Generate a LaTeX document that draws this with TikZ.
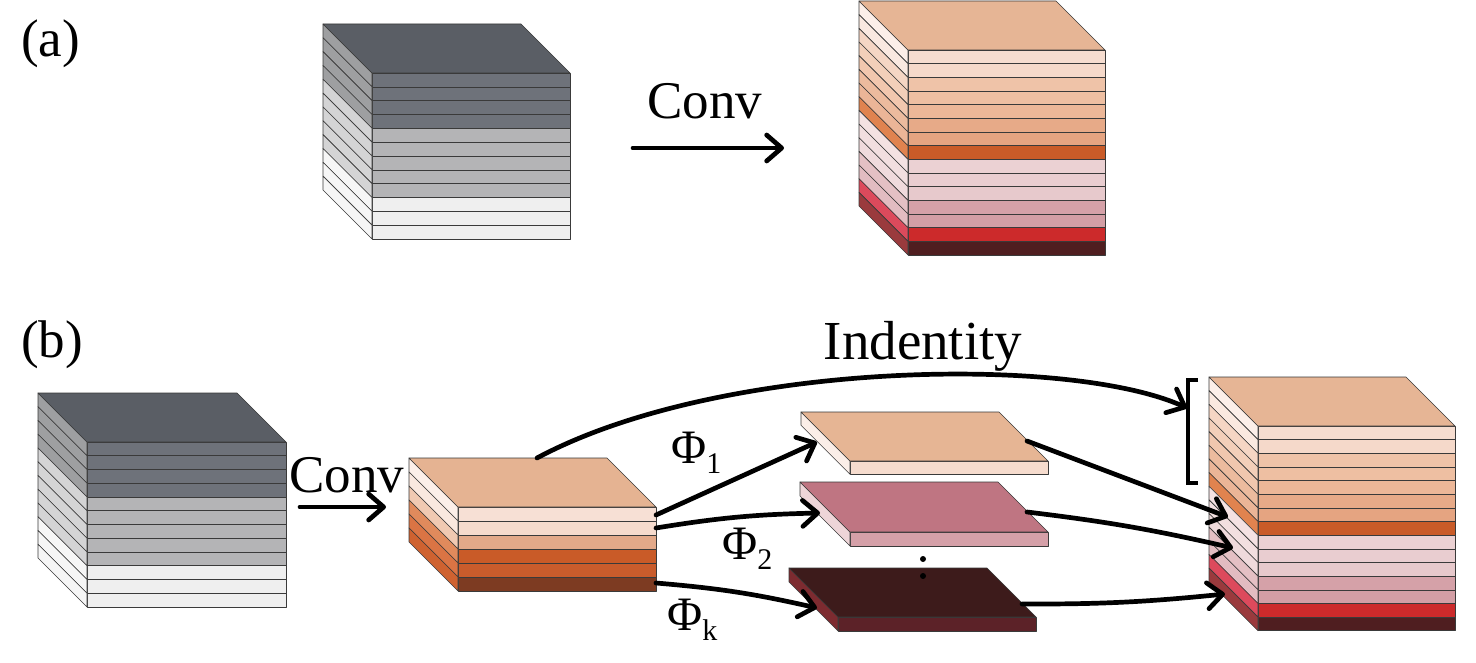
\documentclass[tikz,border=0pt]{standalone}
\usepackage{fontspec}
\setmainfont{Liberation Serif}
\usetikzlibrary{arrows.meta}
% gray cube
\definecolor{gtop}{HTML}{5A5E65}
\definecolor{gf1}{HTML}{6E727A}\definecolor{gs1}{HTML}{9E9FA1}
\definecolor{gf2}{HTML}{B4B4B6}\definecolor{gs2}{HTML}{D4D4D5}
\definecolor{gf3}{HTML}{EFEFEF}\definecolor{gs3}{HTML}{F6F6F6}
% orange/pink cube
\definecolor{otop}{HTML}{E6B595}
\definecolor{o1}{HTML}{F6DDD0}\definecolor{s1}{HTML}{FCEFE9}
\definecolor{o2}{HTML}{F5D9CA}\definecolor{s2}{HTML}{FAE9E0}
\definecolor{o3}{HTML}{EFC3A8}\definecolor{s3}{HTML}{F5D6C4}
\definecolor{o4}{HTML}{EEBFA2}\definecolor{s4}{HTML}{F3CFB9}
\definecolor{o5}{HTML}{ECB798}\definecolor{s5}{HTML}{F1C7AE}
\definecolor{o6}{HTML}{E7AA88}\definecolor{s6}{HTML}{ECBB9E}
\definecolor{o7}{HTML}{E5A481}\definecolor{s7}{HTML}{EBB597}
\definecolor{o8}{HTML}{C95B28}\definecolor{s8}{HTML}{E0834F}
\definecolor{o9}{HTML}{EBD1D3}\definecolor{s9}{HTML}{F4E2E3}
\definecolor{o10}{HTML}{E9CDD0}\definecolor{s10}{HTML}{F2DFE0}
\definecolor{o11}{HTML}{E7C9CC}\definecolor{s11}{HTML}{EFDADC}
\definecolor{o12}{HTML}{D5A1A8}\definecolor{s12}{HTML}{E4C0C4}
\definecolor{o13}{HTML}{D39EA5}\definecolor{s13}{HTML}{E2BCC1}
\definecolor{o14}{HTML}{CC2A2B}\definecolor{s14}{HTML}{DC4A5C}
\definecolor{o15}{HTML}{4F1E20}\definecolor{s15}{HTML}{9A3A3D}
% middle cube
\definecolor{mtop}{HTML}{E5B392}
\definecolor{m1}{HTML}{F7E0D5}\definecolor{n1}{HTML}{FCEFE9}
\definecolor{m2}{HTML}{F6DBCD}\definecolor{n2}{HTML}{FAE8DF}
\definecolor{m3}{HTML}{E3A989}\definecolor{n3}{HTML}{F0C9B2}
\definecolor{m4}{HTML}{C95B28}\definecolor{n4}{HTML}{E08A5C}
\definecolor{m5}{HTML}{C95C2C}\definecolor{n5}{HTML}{DB7444}
\definecolor{m6}{HTML}{7D3B22}\definecolor{n6}{HTML}{CF6230}
% slabs
\definecolor{p1t}{HTML}{E6B594}\definecolor{p1f}{HTML}{F6DCCE}\definecolor{p1s}{HTML}{FBEEE8}
\definecolor{p2t}{HTML}{BF7582}\definecolor{p2f}{HTML}{D5A0A8}\definecolor{p2s}{HTML}{EED5D8}
\definecolor{p3t}{HTML}{3D1B1B}\definecolor{p3f}{HTML}{5C2228}\definecolor{p3s}{HTML}{7D2B30}
\definecolor{edgecol}{HTML}{3A3A3A}

% #1 x front-left, #2 y front-top, #3 width, #4 layer height, #5 top colour, #6 list front/side, #7 depth
\newcommand\layercube[7]{%
  \foreach[count=\i] \fc/\sc in {#6}{%
    \pgfmathsetmacro\ya{#2+(\i-1)*#4}%
    \pgfmathsetmacro\yb{#2+\i*#4}%
    \filldraw[fill=\fc, edgeline] (#1,\ya) rectangle ({#1+#3},\yb);
    \filldraw[fill=\sc, edgeline] (#1,\ya) -- (#1,\yb) -- ({#1-#7},{\yb-#7}) -- ({#1-#7},{\ya-#7}) -- cycle;
  }%
  \filldraw[fill=#5, edgeline] (#1,#2) -- ({#1+#3},#2) -- ({#1+#3-#7},{#2-#7}) -- ({#1-#7},{#2-#7}) -- cycle;
}

\tikzset{
  edgeline/.style={draw=edgecol, line width=0.6pt, line join=round},
  arr/.style={line width=4.7pt, line cap=round, -{Straight Barb[length=15pt,width=26pt,round]}},
  big/.style={inner sep=0pt, font=\fontsize{53}{60}\selectfont},
  phi/.style={inner sep=0pt, anchor=base west, font=\fontsize{48}{50}\selectfont},
}
\newcommand\subl[1]{\raisebox{-10pt}{\fontsize{30}{30}\selectfont #1}}

\begin{document}
\begin{tikzpicture}[x=1pt,y=-1pt]
\useasboundingbox (0,0) rectangle (1476,663);

% ---------- (a) ----------
\node[big, anchor=base west] (la) at (21,57) {(a)};
\layercube{372}{73}{198}{13.83}{gtop}{gf1/gs1,gf1/gs1,gf1/gs1,gf1/gs1,gf2/gs2,gf2/gs2,gf2/gs2,gf2/gs2,gf2/gs2,gf3/gs3,gf3/gs3,gf3/gs3}{49}
\layercube{908}{50}{197}{13.67}{otop}{o1/s1,o2/s2,o3/s3,o4/s4,o5/s5,o6/s6,o7/s7,o8/s8,o9/s9,o10/s10,o11/s11,o12/s12,o13/s13,o14/s14,o15/s15}{49}
\node[big, anchor=base] (conva) at (705,119) {Conv};
\coordinate (aS) at (633,148);
\coordinate (aE) at (784,148);
\draw[arr] (aS) -- (aE);

% ---------- (b) ----------
\node[big, anchor=base west] (lb) at (21,357) {(b)};
\layercube{87}{442}{199}{13.75}{gtop}{gf1/gs1,gf1/gs1,gf1/gs1,gf1/gs1,gf2/gs2,gf2/gs2,gf2/gs2,gf2/gs2,gf2/gs2,gf3/gs3,gf3/gs3,gf3/gs3}{49}
\layercube{458}{507}{198}{14}{mtop}{m1/n1,m2/n2,m3/n3,m4/n4,m5/n5,m6/n6}{49}
\layercube{850}{461}{198}{13.3}{p1t}{p1f/p1s}{49}
\layercube{850}{532}{198}{14}{p2t}{p2f/p2s}{50}
\layercube{838}{617}{198}{14}{p3t}{p3f/p3s}{49}
\layercube{1258}{426}{197}{13.65}{otop}{o1/s1,o2/s2,o3/s3,o4/s4,o5/s5,o6/s6,o7/s7,o8/s8,o9/s9,o10/s10,o11/s11,o12/s12,o13/s13,o14/s14,o15/s15}{49}

% dots
\fill (923,559) circle (3pt);
\fill (923,576) circle (3pt);

% bracket
\draw[line width=3.4pt] (1198,380) -- (1188,380) -- (1188,483) -- (1198,483);

% labels
\node[big, anchor=base] (convb) at (347,492) {Conv};
\node[inner sep=0pt, anchor=base, font=\fontsize{55}{60}\selectfont] (ident) at (923,359) {Indentity};
\node[phi] (phi1) at (671,463) {Φ\subl{1}};
\node[phi] (phi2) at (722,559) {Φ\subl{2}};
\node[phi] (phik) at (667,630) {Φ\subl{k}};

% connector end points
\coordinate (bS) at (300,507);
\coordinate (bE) at (386,507);
\coordinate (idS) at (537,458);
\coordinate (idE) at (1187,408);
\coordinate (m1o) at (656,515);
\coordinate (m2o) at (656,528);
\coordinate (mko) at (656,583);
\coordinate (p1i) at (817,442);
\coordinate (p2i) at (820,513);
\coordinate (pki) at (817,608);
\coordinate (p1o) at (1027,441);
\coordinate (p2o) at (1027,512);
\coordinate (pko) at (1022,604);
\coordinate (r1i) at (1228,517);
\coordinate (r2i) at (1233,548);
\coordinate (rki) at (1225,594);

\draw[arr] (bS) -- (bE);
\draw[arr] (idS) .. controls (720,360) and (1070,355) .. (idE);
\draw[arr] (m1o) -- (p1i);
\draw[arr] (m2o) to[bend left=4] (p2i);
\draw[arr] (mko) to[bend left=4] (pki);
\draw[arr] (p1o) -- (r1i);
\draw[arr] (p2o) to[bend left=3] (r2i);
\draw[arr] (pko) to[bend right=3] (rki);
\end{tikzpicture}
\end{document}
